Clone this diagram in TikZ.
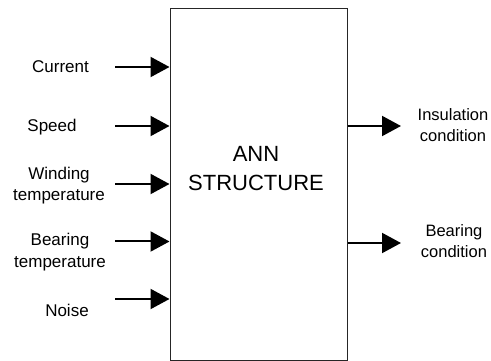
\documentclass[tikz,border=0pt]{standalone}
\usepackage{fontspec}
\setmainfont{Liberation Sans}
\usetikzlibrary{arrows.meta}
\begin{document}
\begin{tikzpicture}[x=1pt,y=-1pt,
  lbl/.style={inner sep=0pt,align=center,font=\fontsize{17}{21.7}\selectfont},
  rlbl/.style={inner sep=0pt,align=center,font=\fontsize{16.5}{21.7}\selectfont},
  flow/.style={line width=2pt,-{Triangle[length=19pt,width=20pt]}},
  annbox/.style={draw=black!85,line width=1pt,minimum width=177pt,minimum height=352pt,inner sep=0pt}]
\useasboundingbox (0,0) rectangle (491,361);
\node[annbox] (ann) at (258.5,184.5) {};
\node[inner sep=0pt,align=center,font=\fontsize{22}{29}\selectfont] (annt) at (256,169) {ANN\\STRUCTURE};
% inputs
\node[lbl] (l1) at (60.5,67) {Current};
\node[lbl] (l2) at (52,127.5) {Speed};
\node[lbl] (l3) at (59,185.5) {Winding\\temperature};
\node[lbl] (l4) at (60,252.3) {Bearing\\temperature};
\node[lbl] (l5) at (67,310) {Noise};
\coordinate (s1) at (115,67);
\coordinate (s2) at (115,126);
\coordinate (s3) at (115,184);
\coordinate (s4) at (115,241.5);
\coordinate (s5) at (115,299);
\foreach \i in {1,...,5} \draw[flow] (s\i) -- (s\i -| ann.west);
% outputs
\coordinate (e1) at (401,126);
\coordinate (e2) at (401,243);
\draw[flow] (e1 -| ann.east) -- (e1);
\draw[flow] (e2 -| ann.east) -- (e2);
\node[rlbl] (o1) at (453,125) {Insulation\\condition};
\node[rlbl] (o2) at (454,241) {Bearing\\condition};
\end{tikzpicture}
\end{document}
